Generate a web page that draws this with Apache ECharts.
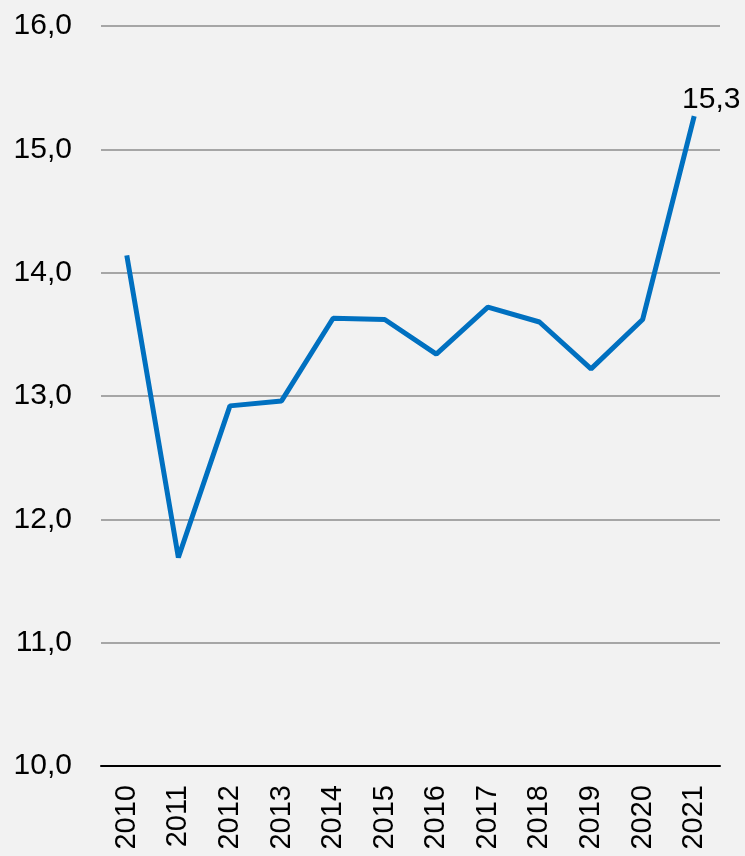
<!DOCTYPE html>
<html>
<head>
<meta charset="utf-8">
<script src="https://cdn.jsdelivr.net/npm/echarts@6/dist/echarts.min.js"></script>
<style>
  html, body { margin: 0; padding: 0; background: #f2f2f2; }
  #chart { width: 745px; height: 856px; }
</style>
</head>
<body>
<div id="chart"></div>
<script>
// годы и значения
var years = ["2010", "2011", "2012", "2013", "2014", "2015", "2016", "2017", "2018", "2019", "2020", "2021"];
var values = [14.14, 11.69, 12.92, 12.96, 13.63, 13.62, 13.34, 13.72, 13.60, 13.22, 13.62, 15.27];

var myChart = echarts.init(document.getElementById("chart"));
myChart.setOption({
  backgroundColor: "#f2f2f2",
  textStyle: { fontFamily: "Liberation Sans, Arial, sans-serif" },
  grid: { left: 101, right: 25, top: 26, bottom: 90 },
  xAxis: {
    type: "category",
    data: years,
    boundaryGap: true,
    axisLine: { lineStyle: { color: "#000", width: 2 } },
    axisTick: { show: false },
    axisLabel: { rotate: 90, color: "#000", fontSize: 29, margin: 19, interval: 0 }
  },
  yAxis: {
    type: "value",
    min: 10,
    max: 16,
    interval: 1,
    axisLine: { show: false },
    axisTick: { show: false },
    splitLine: { lineStyle: { color: "#a6a6a6", width: 2 } },
    axisLabel: {
      color: "#000",
      fontSize: 30,
      margin: 29,
      formatter: function (v) { return v.toFixed(1).replace(".", ","); }
    }
  },
  series: [
    {
      type: "line",
      data: values,
      symbol: "circle",
      symbolSize: 0.1,
      showSymbol: true,
      lineStyle: { color: "#0070c0", width: 5 },
      itemStyle: { color: "#0070c0" },
      label: {
        show: true,
        position: "top",
        distance: 1,
        offset: [17, 0],
        color: "#000",
        fontSize: 30,
        formatter: function (p) {
          return p.dataIndex === values.length - 1 ? p.value.toFixed(1).replace(".", ",") : "";
        }
      },
      animation: false
    }
  ]
});
</script>
</body>
</html>
